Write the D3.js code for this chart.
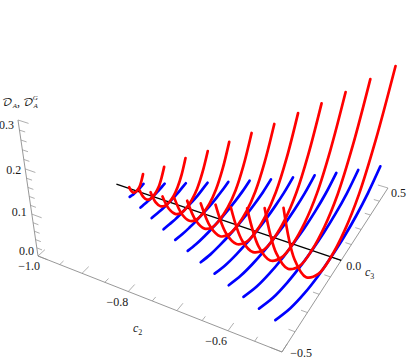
<!DOCTYPE html>
<html><head><meta charset="utf-8">
<script src="https://cdn.jsdelivr.net/npm/d3@7"></script>
<style>html,body{margin:0;padding:0;background:#fff}svg{display:block}text{font-family:"Liberation Serif","Times New Roman",serif;font-size:12px;font-weight:400;fill:#1a1a1a}</style>
</head><body><div id="c"></div>
<script>
// --- data ---
const c2Values=[-0.95,-0.911,-0.872,-0.832,-0.794,-0.755,-0.716,-0.676,-0.637,-0.598,-0.559,-0.52];
const c3Extent=[.05,.089,.128,.168,.206,.245,.284,.324,.363,.402,.441,.48];
const c3Fractions=[-1,-0.75,-0.5,-0.25,0,0.25,0.5,0.75,1];
const redSeries=[
[.027,.013,.005,.001,0,.002,.006,.015,.027],
[.046,.022,.008,.001,0,.003,.010,.025,.046],
[.069,.033,.012,.002,0,.004,.016,.037,.069],
[.087,.042,.015,.002,0,.006,.020,.047,.087],
[.110,.053,.019,.003,.001,.007,.025,.059,.110],
[.132,.063,.022,.003,.001,.009,.030,.071,.132],
[.154,.074,.026,.004,.001,.010,.035,.083,.154],
[.180,.086,.031,.005,.001,.012,.041,.097,.180],
[.203,.097,.035,.005,.001,.013,.046,.110,.203],
[.229,.110,.039,.006,.001,.015,.052,.124,.229],
[.258,.124,.044,.006,.001,.017,.058,.139,.258],
[.287,.138,.049,.007,.001,.019,.065,.155,.287]];
const blueSeries=[
[.002,.001,0,0,0,0,0,.001,.002],
[.003,.002,.001,0,0,0,.001,.002,.003],
[.005,.003,.001,0,0,0,.001,.003,.005],
[.007,.004,.001,0,0,0,.001,.004,.007],
[.010,.005,.002,0,0,0,.002,.005,.010],
[.014,.007,.003,.001,0,.001,.003,.007,.014],
[.018,.009,.004,.001,0,.001,.004,.009,.018],
[.024,.012,.005,.001,0,.001,.005,.012,.024],
[.030,.015,.006,.001,0,.001,.006,.015,.030],
[.037,.018,.007,.001,0,.001,.007,.018,.037],
[.045,.022,.009,.002,0,.002,.009,.022,.045],
[.055,.028,.011,.002,0,.002,.011,.028,.055]];
const blackC2=[-1,-0.5];
const c2Ticks=[-1,-.95,-.9,-.85,-.8,-.75,-.7,-.65,-.6,-.55,-.5];
const c3Ticks=[-.5,-.4,-.3,-.2,-.1,0,.1,.2,.3,.4,.5];
const dTicks=[0,.02,.04,.06,.08,.1,.12,.14,.16,.18,.2,.22,.24,.26,.28,.3];
const c2Labels=[[-1,"−1.0"],[-.8,"−0.8"],[-.6,"−0.6"]];
const c3Labels=[[-.5,"−0.5"],[0,"0.0"],[.5,"0.5"]];
const dLabels=[[0,"0.0"],[.1,"0.1"],[.2,"0.2"],[.3,"0.3"]];

// --- scales + projective camera ---
const sx=d3.scaleLinear().domain([-1,-.5]).range([0,1]);
const sy=d3.scaleLinear().domain([-.5,.5]).range([0,1]);
const sz=d3.scaleLinear().domain([0,.3]).range([0,1]);
function proj(c2,c3,d){
  const X=sx(c2),Y=sy(c3),Z=sz(d);
  const W=1-.119*X+.2337*Y-.11*Z;
  return [(210.4*X+184.07*Y-22*Z+38)/W,(54.1*X-100.55*Y-149.2*Z+256)/W];
}
const svg=d3.select("#c").append("svg").attr("width",407).attr("height",360);
const line=d3.line().curve(d3.curveCatmullRom.alpha(.5));
const gray="#8c8c8c";
function seg(a,b,w,col){svg.append("path").attr("d",d3.line()([a,b])).attr("stroke",col||gray).attr("stroke-width",w||.9).attr("fill","none");}

// axes
seg(proj(-1,-.5,0),proj(-.5,-.5,0));
seg(proj(-.5,-.5,0),proj(-.5,.5,0));
seg(proj(-1,-.5,0),proj(-1,-.5,.3));
c2Ticks.forEach((t,i)=>seg(proj(t,-.5,0),proj(t,-.5+(i%2?.022:.04),0),.7));
c3Ticks.forEach((t,i)=>seg(proj(-.5,t,0),proj(-.5-(i%5?.012:.022),t,0),.7));
dTicks.forEach((t,i)=>seg(proj(-1,-.5,t),proj(-1+(i%5?.012:.022),-.5,t),.7));

// curves
const curve=(row,i)=>line(row.map((d,j)=>proj(c2Values[i],c3Fractions[j]*c3Extent[i],d)));
svg.append("g").selectAll("path").data(blueSeries).join("path").attr("d",curve)
 .attr("fill","none").attr("stroke","#0000ff").attr("stroke-width",2.7).attr("stroke-linecap","round");
svg.append("path").attr("d",d3.line()(blackC2.map(c=>proj(c,0,0)))).attr("stroke","#000").attr("stroke-width",1.3).attr("fill","none");
svg.append("g").selectAll("path").data(redSeries).join("path").attr("d",curve)
 .attr("fill","none").attr("stroke","#ff0000").attr("stroke-width",2.7).attr("stroke-linecap","round");

// labels
function lab(p,dx,dy,s,anchor){svg.append("text").attr("x",p[0]+dx).attr("y",p[1]+dy).attr("text-anchor",anchor||"end").text(s);}
const dOff=[[-4,-1],[-5,2],[-4,5],[-4,9]];
dLabels.forEach((l,i)=>lab(proj(-1,-.5,l[0]),dOff[i][0],dOff[i][1],l[1]));
const c2Off=[[2,14],[0,14.5],[-1,14]];
c2Labels.forEach((l,i)=>lab(proj(l[0],-.5,0),c2Off[i][0],c2Off[i][1],l[1]));
const c3Off=[[30,5],[20,10],[18,9]];
c3Labels.forEach((l,i)=>lab(proj(-.5,l[0],0),c3Off[i][0],c3Off[i][1],l[1]));

function axisTitle(x,y,parts){
  const t=svg.append("text").attr("x",x).attr("y",y).attr("font-style","italic");
  parts.forEach(p=>{const s=t.append("tspan").text(p[0]).attr("dy",p[1]);if(p[2])s.style("font-size",p[2]+"px").style("font-style","normal");});
}
axisTitle(133,332,[["c",0],["2",3,8]]);
axisTitle(365,276,[["c",0],["3",3,8]]);
const mathFont="'DejaVu Math TeX Gyre','DejaVu Serif',serif";
const dt=svg.append("text").attr("x",2).attr("y",106);
dt.append("tspan").text("𝒟").style("font-family",mathFont).style("font-size","11.5px");
dt.append("tspan").text("A").attr("dy",2).style("font-size","7px").style("font-style","italic");
dt.append("tspan").text(", ").attr("dy",-2);
dt.append("tspan").text("𝒟").style("font-family",mathFont).style("font-size","11.5px");
dt.append("tspan").text("A").attr("dy",2).style("font-size","7px").style("font-style","italic");
dt.append("tspan").text("G").attr("dx",-5).attr("dy",-8).style("font-size","7px").style("font-style","italic");
</script></body></html>
